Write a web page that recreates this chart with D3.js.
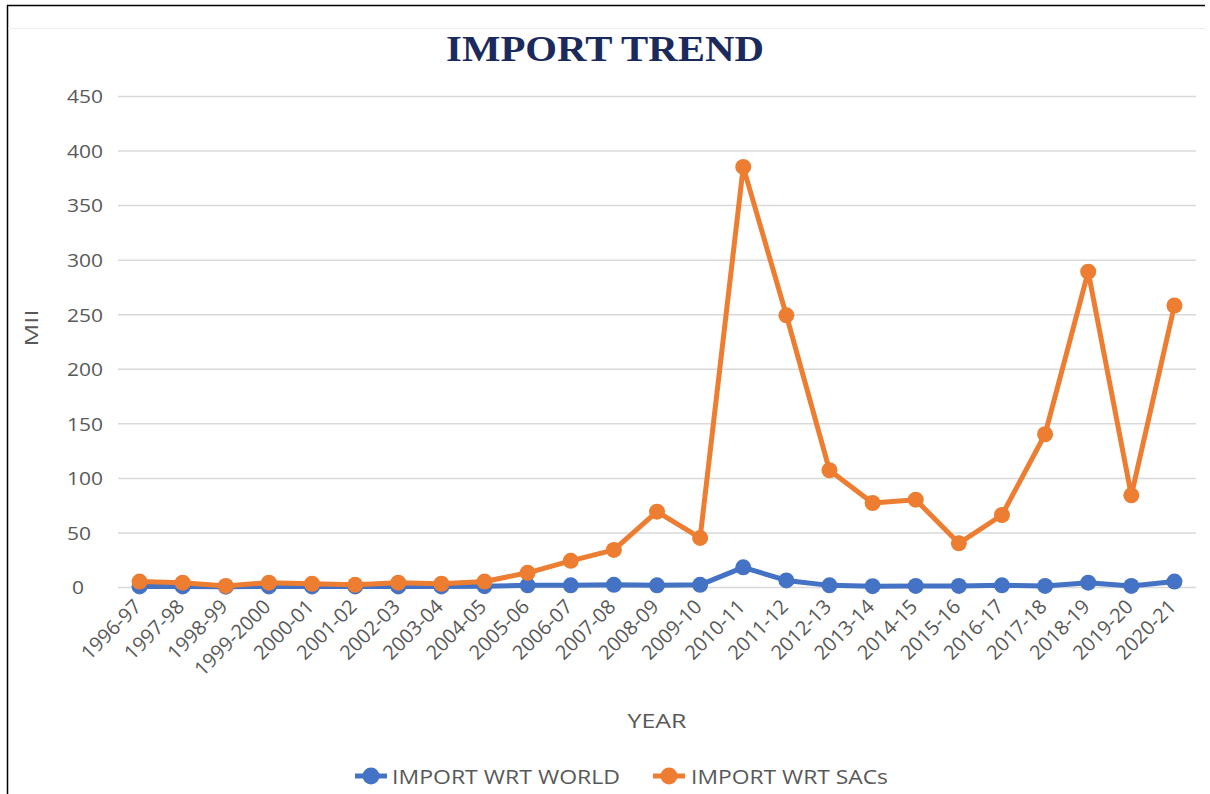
<!DOCTYPE html>
<html>
<head>
<meta charset="utf-8">
<script src="https://cdn.jsdelivr.net/npm/d3@7"></script>
<style>
  html, body { margin: 0; padding: 0; background: #fff; }
  svg { display: block; }
</style>
</head>
<body>
<svg id="chart" width="1210" height="794"></svg>
<script>
const categories = ["1996-97","1997-98","1998-99","1999-2000","2000-01","2001-02","2002-03","2003-04","2004-05","2005-06","2006-07","2007-08","2008-09","2009-10","2010-11","2011-12","2012-13","2013-14","2014-15","2015-16","2016-17","2017-18","2018-19","2019-20","2020-21"];
const worldValues = [0.5, 0.5, 0.3, 0.5, 0.5, 0.5, 0.5, 0.5, 0.8, 1.5, 1.5, 2, 1.5, 2, 18, 6, 1.5, 0.8, 1, 1, 1.5, 1, 4, 1, 5];
const sacValues = [5, 4, 1, 4, 3, 2, 4, 3, 5, 13, 24, 34, 69, 45, 385, 249, 107, 77, 80, 40, 66, 140, 289, 84, 258];
const yTicks = [0, 50, 100, 150, 200, 250, 300, 350, 400, 450];
const seriesNames = ["IMPORT WRT WORLD", "IMPORT WRT SACs"];
const seriesColors = ["#4472C4", "#ED7D31"];

const svg = d3.select("#chart");
const W = 1210, H = 794;
const FONT = "Open Sans, Liberation Sans, sans-serif";
const GREY = "#595959";

// outer frame lines
svg.append("line").attr("x1", 7).attr("x2", 1205).attr("y1", 5.5).attr("y2", 5.5).attr("stroke", "#000").attr("stroke-width", 1.5);
svg.append("line").attr("x1", 7.5).attr("x2", 7.5).attr("y1", 5).attr("y2", H).attr("stroke", "#000").attr("stroke-width", 1.5);
svg.append("line").attr("x1", 8).attr("x2", 1205).attr("y1", 28.5).attr("y2", 28.5).attr("stroke", "#ececec").attr("stroke-width", 1);

const plot = { left: 118, right: 1196, top: 96, bottom: 587 };

const x = d3.scaleBand().domain(categories).range([plot.left, plot.right]).paddingInner(0).paddingOuter(0);
const y = d3.scaleLinear().domain([0, 450]).range([plot.bottom, plot.top]);

// title
svg.append("text")
  .attr("x", 605).attr("y", 61)
  .attr("text-anchor", "middle")
  .attr("font-family", "Liberation Serif, Times New Roman, serif")
  .attr("font-weight", "bold")
  .attr("font-size", 35)
  .attr("fill", "#1B2A5C")
  .attr("textLength", 318)
  .attr("lengthAdjust", "spacingAndGlyphs")
  .text("IMPORT TREND");

// gridlines + y labels
const yAxis = d3.axisLeft(y).tickValues(yTicks).tickSize(-(plot.right - plot.left)).tickPadding(0);
const gy = svg.append("g").attr("transform", `translate(${plot.left},0)`).call(yAxis);
gy.select(".domain").remove();
gy.selectAll(".tick line").attr("stroke", "#d9d9d9").attr("stroke-width", 1.5);
gy.selectAll(".tick text")
  .attr("fill", GREY)
  .attr("font-family", FONT)
  .attr("font-size", 19)
  .attr("text-anchor", "start")
  .attr("x", d => (d === 0 ? 72 : 67) - plot.left)
  .attr("dy", "0.36em")
  .attr("textLength", d => String(d).length * 12)
  .attr("lengthAdjust", "spacingAndGlyphs");

// x axis labels
const xAxis = d3.axisBottom(x).tickSize(0).tickPadding(0);
const gx = svg.append("g").attr("transform", `translate(0,${plot.bottom})`).call(xAxis);
gx.select(".domain").remove();
gx.selectAll(".tick text")
  .attr("fill", GREY)
  .attr("font-family", FONT)
  .attr("font-size", 20)
  .attr("text-anchor", "end")
  .attr("dy", 0)
  .attr("transform", "translate(3,21) rotate(-45)");

// axis titles
svg.append("text")
  .attr("transform", "translate(38,328) rotate(-90)")
  .attr("text-anchor", "middle")
  .attr("fill", GREY)
  .attr("font-family", FONT)
  .attr("font-size", 19)
  .attr("textLength", 37)
  .attr("lengthAdjust", "spacingAndGlyphs")
  .text("MII");

svg.append("text")
  .attr("x", 657).attr("y", 728)
  .attr("text-anchor", "middle")
  .attr("fill", GREY)
  .attr("font-family", FONT)
  .attr("font-size", 20)
  .attr("textLength", 59)
  .attr("lengthAdjust", "spacingAndGlyphs")
  .text("YEAR");

// series
const cx = d => x(d) + x.bandwidth() / 2;
const allSeries = [worldValues, sacValues];
const line = d3.line().x((d, i) => cx(categories[i])).y(d => y(d));

[0, 1].forEach(s => {
  const g = svg.append("g");
  g.append("path")
    .datum(allSeries[s])
    .attr("d", line)
    .attr("fill", "none")
    .attr("stroke", seriesColors[s])
    .attr("stroke-width", 5)
    .attr("stroke-linejoin", "round");
  g.selectAll("circle")
    .data(allSeries[s])
    .join("circle")
    .attr("cx", (d, i) => cx(categories[i]))
    .attr("cy", d => y(d))
    .attr("r", 8)
    .attr("fill", seriesColors[s]);
});

// legend
const legendItems = [{ x: 355, tx: 392, tl: 228 }, { x: 653, tx: 691, tl: 197 }];
legendItems.forEach((it, i) => {
  const g = svg.append("g");
  g.append("line").attr("x1", it.x).attr("x2", it.x + 32).attr("y1", 776).attr("y2", 776)
    .attr("stroke", seriesColors[i]).attr("stroke-width", 5);
  g.append("circle").attr("cx", it.x + 16).attr("cy", 776).attr("r", 8.5).attr("fill", seriesColors[i]);
  g.append("text").attr("x", it.tx).attr("y", 784)
    .attr("fill", GREY)
    .attr("font-family", FONT)
    .attr("font-size", 20)
    .attr("textLength", it.tl)
    .attr("lengthAdjust", "spacingAndGlyphs")
    .text(seriesNames[i]);
});
</script>
</body>
</html>
